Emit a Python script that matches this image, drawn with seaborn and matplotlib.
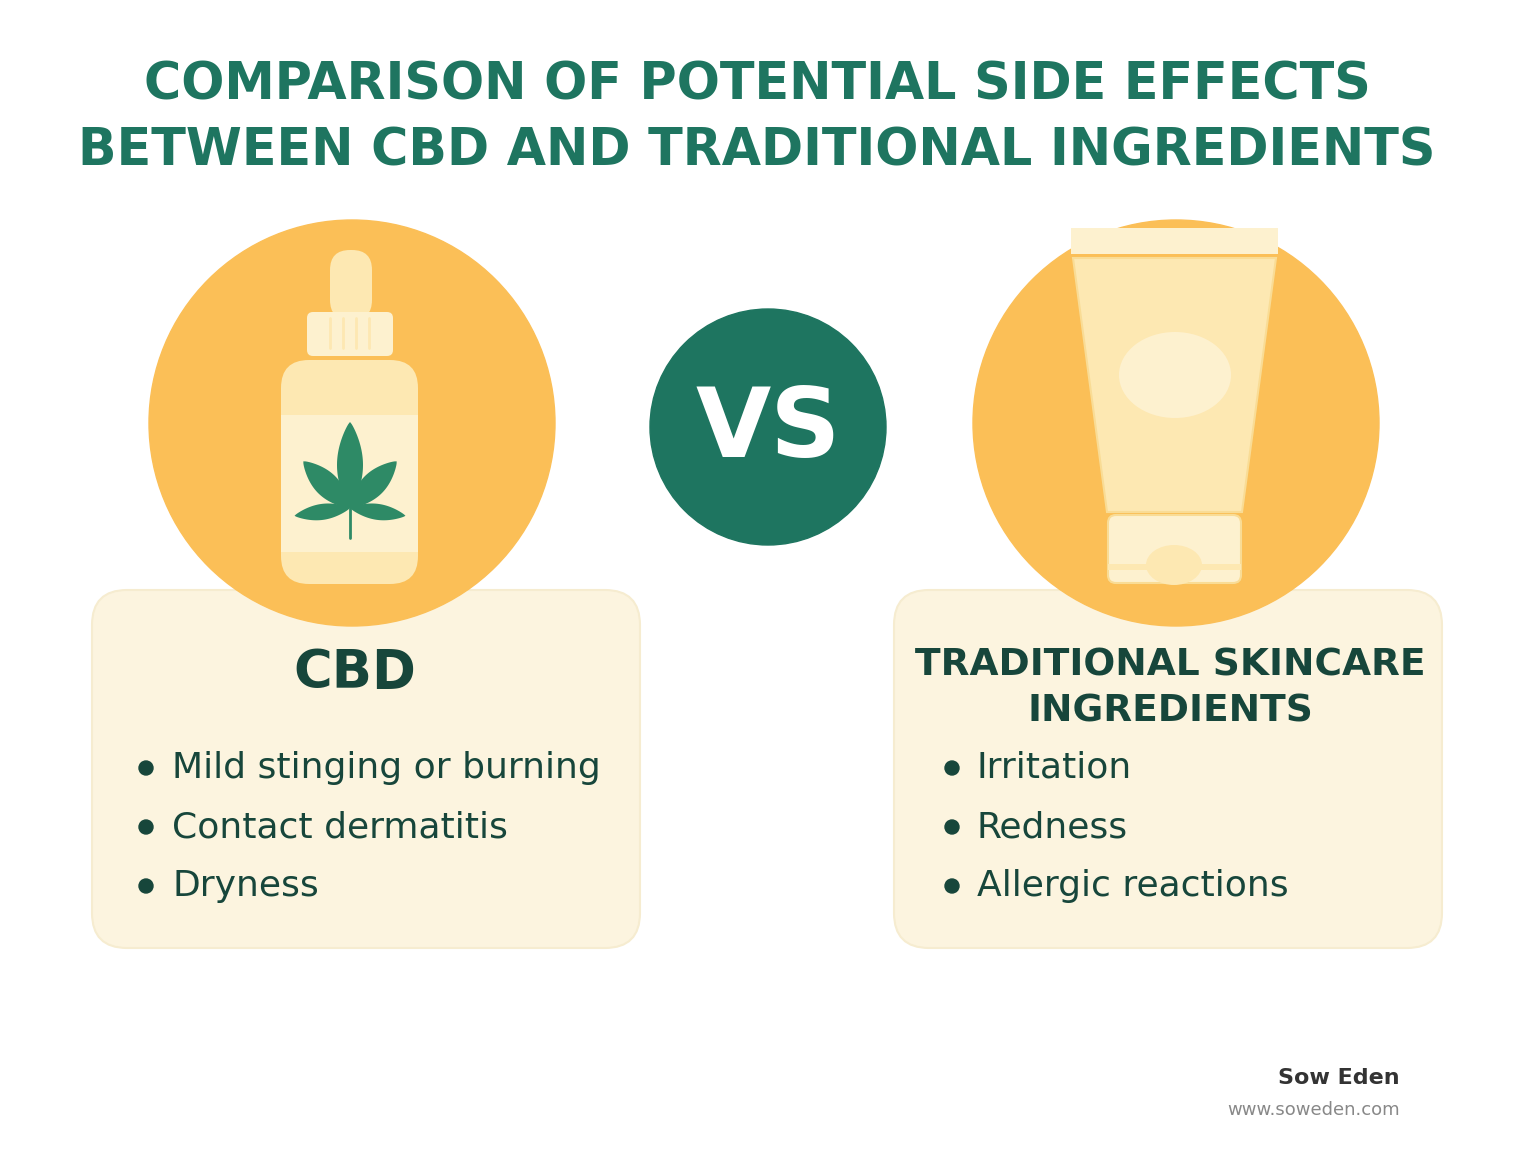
import matplotlib
matplotlib.use("Agg")
import matplotlib.pyplot as plt
import seaborn as sns
from matplotlib.patches import Circle, FancyBboxPatch, Ellipse, Polygon, Rectangle
import numpy as np

sns.set_theme(style="white")
plt.rcParams['font.family'] = ['DejaVu Sans']

title_lines = ["COMPARISON OF POTENTIAL SIDE EFFECTS", "BETWEEN CBD AND TRADITIONAL INGREDIENTS"]
left_title = "CBD"
left_items = ["Mild stinging or burning", "Contact dermatitis", "Dryness"]
right_title = ["TRADITIONAL SKINCARE", "INGREDIENTS"]
right_items = ["Irritation", "Redness", "Allergic reactions"]
brand = "Sow Eden"
url = "www.soweden.com"

GREEN = "#1e7560"
DARK = "#17463b"
ORANGE = "#fbbf57"
BOX = "#fcf4df"
PALE = "#fde8b2"
PALER = "#fdf1cf"

fig = plt.figure(figsize=(15.36, 11.54), dpi=100)
ax = fig.add_axes([0, 0, 1, 1])
ax.set_xlim(0, 1536); ax.set_ylim(1154, 0); ax.axis("off")

for i, t in enumerate(title_lines):
    ax.text(757, 85 + i * 67, t, ha="center", va="center", fontsize=36.5, fontweight="heavy", color=GREEN)

# boxes
for x0 in (92, 894):
    ax.add_patch(FancyBboxPatch((x0, 590), 548, 358, boxstyle="round,pad=0,rounding_size=35",
                                facecolor=BOX, edgecolor="#f6ecd0", lw=1.5, zorder=1))

# circles
ax.add_patch(Circle((352, 423), 203, color=ORANGE, zorder=2))
ax.add_patch(Circle((1176, 423), 203, color=ORANGE, zorder=2))
ax.add_patch(Circle((768, 427), 118, color=GREEN, zorder=3))
ax.text(768, 430, "VS", ha="center", va="center", fontsize=70, fontweight="heavy", color="white", zorder=4)

# bottle
ax.add_patch(FancyBboxPatch((330, 250), 42, 70, boxstyle="round,pad=0,rounding_size=20", fc=PALE, ec="none", zorder=3))
ax.add_patch(FancyBboxPatch((307, 312), 86, 44, boxstyle="round,pad=0,rounding_size=6", fc=PALER, ec="none", zorder=4))
for xx in (330, 343, 356, 369):
    ax.add_line(plt.Line2D([xx, xx], [318, 348], color=PALE, lw=2, zorder=5))
ax.add_patch(FancyBboxPatch((281, 360), 137, 224, boxstyle="round,pad=0,rounding_size=28", fc=PALE, ec="none", zorder=3))
ax.add_patch(Rectangle((281, 415), 137, 137, fc=PALER, ec="none", zorder=4))
# leaf
cx, cy = 350, 508
for ang, L, W in [(90, 86, 13), (45, 66, 12), (135, 66, 12), (-8, 56, 8), (188, 56, 8)]:
    a = np.deg2rad(ang)
    t = np.linspace(0, 1, 40)
    w = W * np.sin(np.pi * t) ** 0.8
    ux, uy = np.cos(a), -np.sin(a)
    px, py = -uy, ux
    xs = np.concatenate([cx + ux * L * t + px * w, (cx + ux * L * t - px * w)[::-1]])
    ys = np.concatenate([cy + uy * L * t + py * w, (cy + uy * L * t - py * w)[::-1]])
    ax.add_patch(Polygon(np.c_[xs, ys], fc="#2e8a66", ec="none", zorder=5))
ax.add_line(plt.Line2D([cx, cx], [cy, cy + 30], color="#2e8a66", lw=2, zorder=5))

# tube
ax.add_patch(Rectangle((1071, 228), 207, 26, fc=PALER, ec="none", zorder=3))
ax.add_patch(Polygon([(1073, 258), (1276, 258), (1242, 512), (1107, 512)], fc=PALE, ec="#f9dc95", lw=1.5, zorder=3))
ax.add_patch(Ellipse((1175, 375), 112, 86, fc=PALER, ec="none", zorder=4))
ax.add_patch(FancyBboxPatch((1108, 515), 133, 68, boxstyle="round,pad=0,rounding_size=8", fc=PALER, ec="#f9dc95", lw=1.5, zorder=3))
ax.add_patch(Ellipse((1174, 565), 56, 40, fc=PALE, ec="none", zorder=4))
ax.add_patch(Rectangle((1108, 564), 133, 6, fc=PALE, ec="none", zorder=5))

# texts
ax.text(355, 673, left_title, ha="center", va="center", fontsize=38, fontweight="heavy", color=DARK, zorder=6)
for i, t in enumerate(right_title):
    ax.text(1170, 665 + i * 47, t, ha="center", va="center", fontsize=27, fontweight="heavy", color=DARK, zorder=6)
for items, bx, tx in ((left_items, 146, 172), (right_items, 952, 977)):
    for i, t in enumerate(items):
        y = 768 + i * 59
        ax.add_patch(Circle((bx, y), 7, color=DARK, zorder=6))
        ax.text(tx, y, t, ha="left", va="center", fontsize=26, color=DARK, zorder=6)

ax.text(1400, 1078, brand, ha="right", va="center", fontsize=16, fontweight="bold", color="#333333")
ax.text(1400, 1110, url, ha="right", va="center", fontsize=13, color="#888888")

fig.savefig("out.png", dpi=100, facecolor="white")
